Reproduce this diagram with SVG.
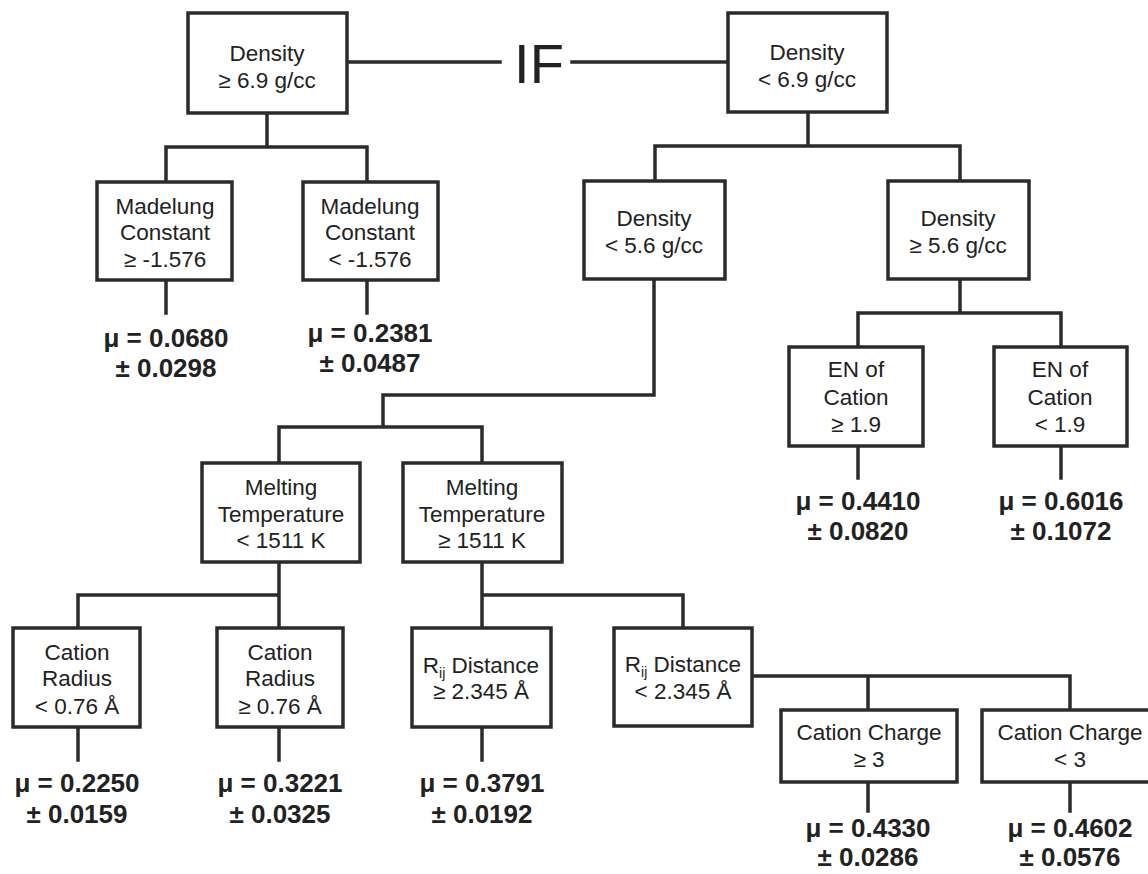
<svg xmlns="http://www.w3.org/2000/svg" width="1148" height="874" viewBox="0 0 1148 874">
<style>
.box{fill:#fff;stroke:#2b2b2b;stroke-width:3.5}
.c{fill:none;stroke:#2b2b2b;stroke-width:3.5;stroke-linecap:square}
.t{font-family:"Liberation Sans",Arial,sans-serif;font-size:22.5px;fill:#222;text-anchor:middle}
.r{font-family:"Liberation Sans",Arial,sans-serif;font-size:26px;font-weight:bold;fill:#222;text-anchor:middle}
.if{font-family:"Liberation Sans",Arial,sans-serif;font-size:56px;fill:#222;text-anchor:middle}
.sub{font-size:14px}
</style>
<rect width="1148" height="874" fill="#fff"/>
<g id="connectors">
<path class="c" d="M347,62H500M572,62H728"/>
<path class="c" d="M267,113V147M166,182V147H367V182"/>
<path class="c" d="M166,280V313M367,280V313"/>
<path class="c" d="M808,112V146M655,181V146H960V181"/>
<path class="c" d="M654,279V395H383V427M279,463V427H482V463"/>
<path class="c" d="M960,279V313M858,347V313H1061V347"/>
<path class="c" d="M858,446V478M1061,446V478"/>
<path class="c" d="M279,562V628M78,628V595H279"/>
<path class="c" d="M482,562V628M482,595H683V628"/>
<path class="c" d="M78,727V760M279,727V760M482,727V760"/>
<path class="c" d="M752,676H1070V710M868,676V710"/>
<path class="c" d="M868,782V811M1070,782V811"/>
</g>
<g id="if"><text class="if" x="539" y="83">IF</text></g>
<g id="nA"><rect class="box" x="188" y="13" width="159" height="100"/><text class="t" x="267" y="61">Density</text><text class="t" x="267" y="88">≥ 6.9 g/cc</text></g>
<g id="nB"><rect class="box" x="728" y="13" width="159" height="99"/><text class="t" x="807" y="60">Density</text><text class="t" x="807" y="87">&lt; 6.9 g/cc</text></g>
<g id="nC"><rect class="box" x="97" y="182" width="135" height="98"/><text class="t" x="165" y="214">Madelung</text><text class="t" x="165" y="240">Constant</text><text class="t" x="165" y="267">≥ -1.576</text></g>
<g id="nD"><rect class="box" x="303" y="182" width="135" height="98"/><text class="t" x="370" y="214">Madelung</text><text class="t" x="370" y="240">Constant</text><text class="t" x="370" y="267">&lt; -1.576</text></g>
<g id="lC"><text class="r" x="166" y="347">μ = 0.0680</text><text class="r" x="166" y="377">± 0.0298</text></g>
<g id="lD"><text class="r" x="370" y="342">μ = 0.2381</text><text class="r" x="370" y="372">± 0.0487</text></g>
<g id="nE"><rect class="box" x="584" y="181" width="141" height="98"/><text class="t" x="654" y="226">Density</text><text class="t" x="654" y="253">&lt; 5.6 g/cc</text></g>
<g id="nF"><rect class="box" x="888" y="181" width="141" height="98"/><text class="t" x="958" y="226">Density</text><text class="t" x="958" y="253">≥ 5.6 g/cc</text></g>
<g id="nEN1"><rect class="box" x="789" y="347" width="134" height="99"/><text class="t" x="856" y="377">EN of</text><text class="t" x="856" y="405">Cation</text><text class="t" x="856" y="432">≥ 1.9</text></g>
<g id="nEN2"><rect class="box" x="994" y="347" width="133" height="99"/><text class="t" x="1060" y="377">EN of</text><text class="t" x="1060" y="405">Cation</text><text class="t" x="1060" y="432">&lt; 1.9</text></g>
<g id="lEN1"><text class="r" x="858" y="510">μ = 0.4410</text><text class="r" x="858" y="540">± 0.0820</text></g>
<g id="lEN2"><text class="r" x="1061" y="510">μ = 0.6016</text><text class="r" x="1061" y="540">± 0.1072</text></g>
<g id="nM1"><rect class="box" x="202" y="463" width="158" height="99"/><text class="t" x="281" y="495">Melting</text><text class="t" x="281" y="522">Temperature</text><text class="t" x="281" y="548">&lt; 1511 K</text></g>
<g id="nM2"><rect class="box" x="403" y="463" width="159" height="99"/><text class="t" x="482" y="495">Melting</text><text class="t" x="482" y="522">Temperature</text><text class="t" x="482" y="548">≥ 1511 K</text></g>
<g id="nCR1"><rect class="box" x="13" y="628" width="127" height="99"/><text class="t" x="77" y="660">Cation</text><text class="t" x="77" y="686">Radius</text><text class="t" x="77" y="714">&lt; 0.76 Å</text></g>
<g id="nCR2"><rect class="box" x="217" y="628" width="126" height="99"/><text class="t" x="280" y="660">Cation</text><text class="t" x="280" y="686">Radius</text><text class="t" x="280" y="714">≥ 0.76 Å</text></g>
<g id="nRG"><rect class="box" x="412" y="628" width="139" height="99"/><text class="t" x="481" y="673">R<tspan class="sub" dy="5">ij</tspan><tspan dy="-5"> Distance</tspan></text><text class="t" x="481" y="699">≥ 2.345 Å</text></g>
<g id="nRL"><rect class="box" x="614" y="628" width="138" height="98"/><text class="t" x="683" y="672">R<tspan class="sub" dy="5">ij</tspan><tspan dy="-5"> Distance</tspan></text><text class="t" x="683" y="699">&lt; 2.345 Å</text></g>
<g id="lCR1"><text class="r" x="77" y="792">μ = 0.2250</text><text class="r" x="77" y="823">± 0.0159</text></g>
<g id="lCR2"><text class="r" x="280" y="792">μ = 0.3221</text><text class="r" x="280" y="823">± 0.0325</text></g>
<g id="lRG"><text class="r" x="482" y="792">μ = 0.3791</text><text class="r" x="482" y="823">± 0.0192</text></g>
<g id="nCC1"><rect class="box" x="781" y="710" width="176" height="72"/><text class="t" x="869" y="740">Cation Charge</text><text class="t" x="869" y="767">≥ 3</text></g>
<g id="nCC2"><rect class="box" x="982" y="710" width="176" height="72"/><text class="t" x="1070" y="740">Cation Charge</text><text class="t" x="1070" y="767">&lt; 3</text></g>
<g id="lCC1"><text class="r" x="868" y="837">μ = 0.4330</text><text class="r" x="868" y="866">± 0.0286</text></g>
<g id="lCC2"><text class="r" x="1070" y="837">μ = 0.4602</text><text class="r" x="1070" y="866">± 0.0576</text></g>
</svg>
